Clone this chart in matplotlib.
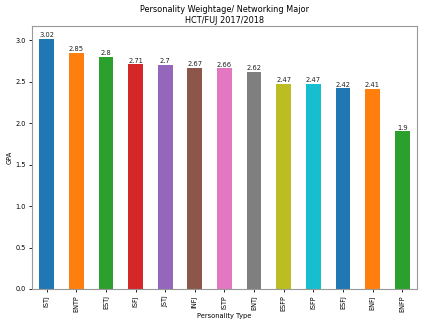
import numpy as np
import matplotlib
matplotlib.use("Agg")
import matplotlib.pyplot as plt

# Personality types and average GPA
types = ["ISTJ", "ENTP", "ESTJ", "ISFJ", "JSTJ", "INFJ", "ISTP",
         "ENTJ", "ESFP", "ISFP", "ESFJ", "ENFJ", "ENFP"]
gpa = [3.02, 2.85, 2.8, 2.71, 2.7, 2.67, 2.66, 2.62, 2.47, 2.47, 2.42, 2.41, 1.9]

colors = plt.rcParams['axes.prop_cycle'].by_key()['color']
bar_colors = [colors[i % len(colors)] for i in range(len(types))]

fig = plt.figure(figsize=(4.34, 3.29), dpi=100)
ax = fig.add_axes([0.0737, 0.1216, 0.887, 0.799])

x = np.arange(len(types))
bars = ax.bar(x, gpa, width=0.5, color=bar_colors)
ax.set_xlim(-0.5, len(types) - 0.5)
ax.set_ylim(0, max(gpa) * 1.05)

for xi, v in zip(x, gpa):
    ax.text(xi, v + 0.01, str(v), ha='center', va='bottom', fontsize=4.9, color='#222222')

ax.set_xticks(x)
ax.set_xticklabels(types, rotation=90, fontsize=4.7)
ax.tick_params(axis='y', labelsize=4.7)
ax.tick_params(length=2.5, width=0.6, pad=2)
ax.set_yticks(np.arange(0, 3.01, 0.5))
ax.set_xlabel('Personality Type', fontsize=4.8)
ax.set_ylabel('GPA', fontsize=4.8)
ax.xaxis.set_label_coords(0.5, -0.091)
ax.yaxis.set_label_coords(-0.049, 0.5)
ax.set_title('Personality Weightage/ Networking Major\nHCT/FUJ 2017/2018', fontsize=5.9, pad=2.5)
for s in ax.spines.values():
    s.set_color('#999999')
    s.set_linewidth(0.8)

fig.savefig('out.png', dpi=100)
